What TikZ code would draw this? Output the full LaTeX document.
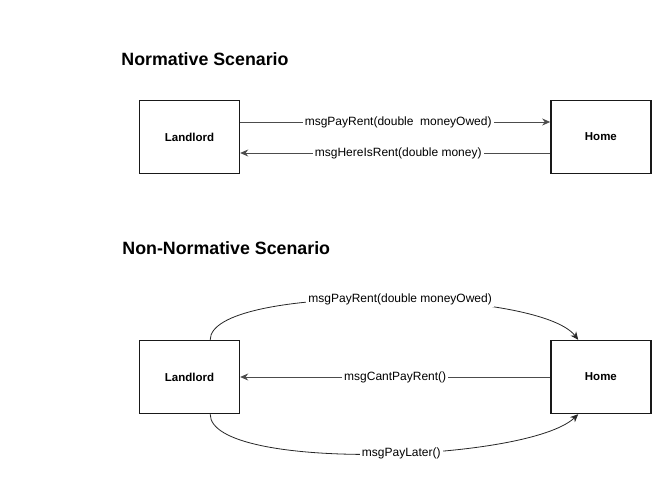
\documentclass[tikz,border=0pt]{standalone}
\usepackage{fontspec}
\setmainfont{Liberation Sans}
\usepackage{xcolor}
\colorlet{colorMsg}{black!70}
\colorlet{colorBox}{black!90}
\usetikzlibrary{arrows.meta, positioning}
\tikzset{
  actor/.style={draw=colorBox, line width=1.4pt, minimum width=100pt, minimum height=73pt, font=\fontsize{11.5}{13}\selectfont\bfseries},
  msg/.style={fill=white, text=black, inner sep=2pt, font=\fontsize{12}{14}\selectfont},
  heading/.style={anchor=west, inner sep=0pt, font=\fontsize{17.8}{20}\selectfont\bfseries}
}

\begin{document}
\begin{tikzpicture}[x=1pt, y=-1pt, >={Stealth[length=8pt, width=7pt]}, line width=0.8pt, node distance=310pt]
\useasboundingbox (0,0) rectangle (670,481);
% normative scenario
\node[heading] (titleN) at (121,59) {Normative Scenario};
\node[actor] (landlordN) at (189.5,137) {Landlord};
\node[actor, right=of landlordN] (homeN) {Home};
\draw [->, colorMsg] ([yshift=15pt]landlordN.east) -- node [msg, xshift=3pt] {msgPayRent(double\ \ moneyOwed)} ([yshift=15pt]homeN.west);
\draw [->, colorMsg] ([yshift=-16pt]homeN.west) -- node [msg, xshift=3pt] {msgHereIsRent(double money)} ([yshift=-16pt]landlordN.east);
% non-normative scenario
\node[heading] (titleNN) at (122,248) {Non-Normative Scenario};
\node[actor] (landlordNN) at (189.5,377) {Landlord};
\node[actor, right=of landlordNN] (homeNN) {Home};
\draw [->, colorMsg] (homeNN.west) -- node [msg] {msgCantPayRent()} (landlordNN.east);
\draw [->, black!85] ([xshift=-30pt]landlordNN.north east) .. controls +(0,-56) and +(-40,-52) .. node [msg, pos=0.54] {msgPayRent(double moneyOwed)} ([xshift=28pt]homeNN.north west);
\draw [->, black!85] ([xshift=-30pt]landlordNN.south east) .. controls +(0,58) and +(-50,48) .. node [msg, pos=0.55] {msgPayLater()} ([xshift=28pt]homeNN.south west);
\end{tikzpicture}
\end{document}
